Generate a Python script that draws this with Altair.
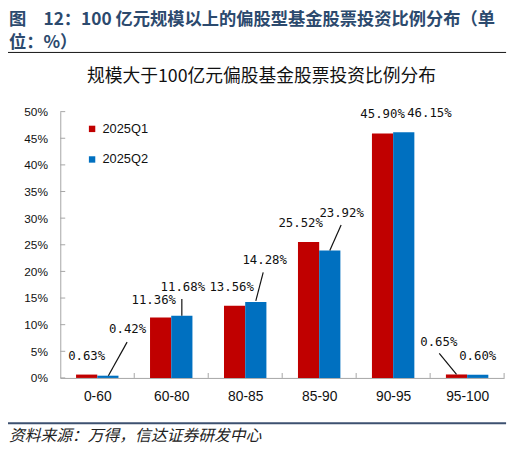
import altair as alt
import pandas as pd

categories = ["0-60", "60-80", "80-85", "85-90", "90-95", "95-100"]
q1 = [0.63, 11.36, 13.56, 25.52, 45.90, 0.65]
q2 = [0.42, 11.68, 14.28, 23.92, 46.15, 0.60]
series = ["2025Q1", "2025Q2"]
y_ticks = [0, 5, 10, 15, 20, 25, 30, 35, 40, 45, 50]

header_1 = "图\u300012：100 亿元规模以上的偏股型基金股票投资比例分布（单"
header_2 = "位：%）"
chart_title = "规模大于100亿元偏股基金股票投资比例分布"
source = "资料来源：万得，信达证券研发中心"

COLORS = ["#C00000", "#0070C0"]
GREY = "#A6A6A6"
CJK = "Noto Sans CJK SC"
SANS = "Liberation Sans"
MONO = "DejaVu Sans Mono"

# bar layout inside one category slot (slot width = 1)
GAP = 0.2133
BAR = 0.2867

rows = []
for i, cat in enumerate(categories):
    for k, (s, vals) in enumerate(zip(series, [q1, q2])):
        x0 = i + GAP + k * BAR
        rows.append(
            dict(cat=cat, series=s, value=vals[i], base=0, x0=x0, x1=x0 + BAR,
                 cx=x0 + BAR / 2, label=f"{vals[i]:.2f}%")
        )
df = pd.DataFrame(rows)

# label offsets (px) from top centre of each bar
LABEL_OFFSETS = {
    ("0-60", "2025Q1"): (0, -19),
    ("0-60", "2025Q2"): (20, -47),
    ("60-80", "2025Q1"): (-7, -18),
    ("60-80", "2025Q2"): (1, -29),
    ("80-85", "2025Q1"): (-3, -19),
    ("80-85", "2025Q2"): (9, -42),
    ("85-90", "2025Q1"): (-8, -19),
    ("85-90", "2025Q2"): (12, -38),
    ("90-95", "2025Q1"): (0, -20),
    ("90-95", "2025Q2"): (26, -19),
    ("95-100", "2025Q1"): (-18, -33),
    ("95-100", "2025Q2"): (0, -19),
}
# leader lines: (x1, y1, x2, y2) px from top centre of bar
LEADERS = {
    ("0-60", "2025Q2"): (19.5, -34, 0.5, 0),
    ("60-80", "2025Q2"): (0, -17, 0, 0),
    ("80-85", "2025Q2"): (7.5, -30, 0, -1),
    ("85-90", "2025Q2"): (11.5, -26, 0, 0),
    ("95-100", "2025Q1"): (-17.5, -21.5, 0, 0),
}

x_scale = alt.Scale(domain=[0, 6], nice=False, zero=False)
y_scale = alt.Scale(domain=[0, 50], nice=False)
names_js = "[" + ",".join(f"'{c}'" for c in categories) + "]"

X_AXIS = alt.Axis(
    values=[i + 0.5 for i in range(len(categories))],
    labelExpr=f"{names_js}[floor(datum.value)]",
    ticks=False, grid=False, domainColor=GREY, labelFont=SANS,
    labelFontSize=14, labelColor="#111", labelPadding=12, labelFlush=False,
)
Y_AXIS = alt.Axis(
    values=y_ticks, labelExpr="datum.value + '%'", ticks=False, grid=False,
    domainColor=GREY, labelFont=SANS, labelFontSize=12, labelColor="#111",
    labelPadding=13, labelOverlap=False,
)


def xq(field):
    return alt.X(field, type="quantitative", scale=x_scale, axis=X_AXIS, title=None)


def yq(field):
    return alt.Y(field, type="quantitative", scale=y_scale, axis=Y_AXIS, title=None)


bars = alt.Chart(df).mark_bar().encode(
    x=xq("x0"),
    x2="x1",
    y=yq("value"),
    y2="base",
    color=alt.Color(
        "series:N", scale=alt.Scale(domain=series, range=COLORS),
        legend=alt.Legend(
            orient="none", legendX=25.75, legendY=11, title=None, symbolType="square",
            symbolSize=42, symbolStrokeWidth=0, labelFont=SANS, labelFontSize=13,
            labelColor="#111", rowPadding=17, padding=0,
        ),
    ),
)

ytick = alt.Chart(pd.DataFrame({"v": y_ticks, "z": 0})).mark_rule(
    color=GREY, x2Offset=5
).encode(x=xq("z"), x2="z", y=yq("v"))
xtick = alt.Chart(
    pd.DataFrame({"t": list(range(1, len(categories) + 1)), "z": 0})
).mark_rule(color=GREY, y2Offset=-5).encode(x=xq("t"), y=yq("z"), y2="z")

layers = [bars, ytick, xtick]

for (cat, s), (dx, dy) in LABEL_OFFSETS.items():
    layers.append(
        alt.Chart(df)
        .transform_filter(f"datum.cat == '{cat}' && datum.series == '{s}'")
        .mark_text(dx=dx, dy=dy, font=MONO, fontSize=12.5, color="#111", baseline="middle")
        .encode(x=xq("cx"), y=yq("value"), text="label:N")
    )

for (cat, s), (ax, ay, bx, by) in LEADERS.items():
    layers.append(
        alt.Chart(df)
        .transform_filter(f"datum.cat == '{cat}' && datum.series == '{s}'")
        .mark_rule(color="#111", strokeWidth=1.2, xOffset=ax, yOffset=ay,
                   x2Offset=bx, y2Offset=by)
        .encode(x=xq("cx"), x2="cx", y=yq("value"), y2="value")
    )


def text_layer(txt, x, y, **kw):
    return alt.Chart(pd.DataFrame({"t": [txt]})).mark_text(baseline="middle", **kw).encode(
        text="t:N", x=alt.value(x), y=alt.value(y)
    )


layers += [
    text_layer(header_1, -52, -93, align="left", font=CJK, fontSize=17.5,
               fontWeight="bold", color="#2C4A6E"),
    text_layer(header_2, -52, -70, align="left", font=CJK, fontSize=17.5,
               fontWeight="bold", color="#2C4A6E"),
    text_layer(chart_title, 204, -35, align="center", font=CJK, fontSize=18, color="#111"),
    text_layer(source, -52, 329, align="left", font=CJK, fontSize=16,
               fontStyle="italic", color="#222"),
    alt.Chart(pd.DataFrame({"a": [0]})).mark_rule(color="#111", strokeWidth=1).encode(
        x=alt.value(-53), x2=alt.value(452), y=alt.value(-60)
    ),
    alt.Chart(pd.DataFrame({"a": [0]})).mark_rule(color="#3D5170", strokeWidth=2).encode(
        x=alt.value(-53), x2=alt.value(452), y=alt.value(316)
    ),
]

chart = (
    alt.layer(*layers)
    .properties(
        width=450, height=270,
        autosize=alt.AutoSizeParams(type="none"),
        padding={"left": 53, "top": 102, "right": 8, "bottom": 70},
    )
    .configure_view(stroke=None)
)

chart.save("out.html", embed_options={"renderer": "svg", "actions": False})
